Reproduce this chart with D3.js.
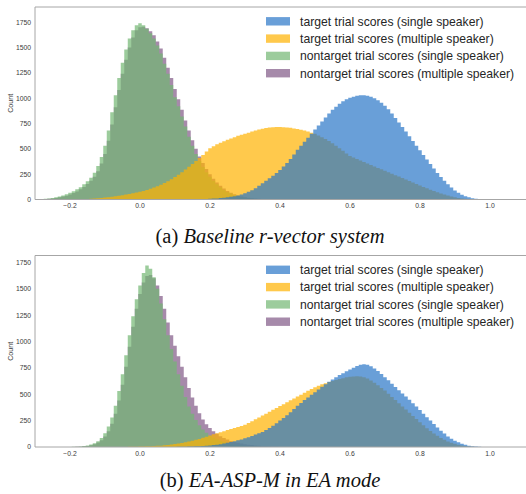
<!DOCTYPE html>
<html>
<head>
<meta charset="utf-8">
<script src="https://cdn.jsdelivr.net/npm/d3@7"></script>
<style>
  body { margin: 0; background: #fff; }
  svg { display: block; }
  .tick-label { font-family: "Liberation Sans", Arial, sans-serif; font-size: 6.8px; fill: #3a3a3a; }
  .legend-label { font-family: "Liberation Sans", Arial, sans-serif; font-size: 12.2px; fill: #262626; }
  .caption { font-family: "Liberation Serif", "Times New Roman", serif; font-size: 20.5px; fill: #111; }
</style>
</head>
<body>
<div id="chart"></div>
<script>
// Histogram bin counts, one value per 0.01-wide bin
const binWidth = 0.01;

const seriesNames = [
    'target trial scores (single speaker)',
    'target trial scores (multiple speaker)',
    'nontarget trial scores (single speaker)',
    'nontarget trial scores (multiple speaker)'
];

const xTicks = [-0.2, 0.0, 0.2, 0.4, 0.6, 0.8, 1.0];
const yTicks = [0, 250, 500, 750, 1000, 1250, 1500, 1750];

// (a) Baseline r-vector system
const baseTargetSingleStart = 0.15;
const baseTargetSingle = [1, 2, 3, 4, 5, 7, 9, 11, 14, 17, 21, 26, 32, 40, 50, 62, 76, 92, 112, 135,
    160, 185, 210, 235, 262, 290, 325, 360, 400, 445, 490, 530, 570, 610, 650, 690, 730, 770, 810, 850,
    885, 915, 945, 970, 990, 1005, 1015, 1025, 1030, 1030, 1025, 1015, 1000, 980, 955, 925, 890, 850, 805, 760,
    715, 670, 625, 578, 530, 485, 440, 395, 350, 305, 262, 222, 185, 150, 118, 90, 66, 47, 32, 21,
    13, 8, 5, 3, 2, 1];

const baseTargetMultiStart = -0.18;
const baseTargetMulti = [2, 3, 4, 5, 7, 9, 12, 15, 19, 23, 27, 32, 37, 43, 49, 55, 62, 69, 76, 85,
    95, 106, 118, 131, 146, 162, 180, 200, 222, 245, 270, 296, 323, 350, 380, 410, 440, 475, 505, 525,
    545, 560, 575, 590, 602, 615, 628, 640, 650, 660, 670, 680, 690, 698, 705, 710, 714, 716, 716, 714,
    711, 707, 702, 696, 688, 680, 670, 660, 648, 632, 615, 597, 578, 555, 530, 505, 480, 455, 430, 415,
    400, 385, 370, 355, 340, 325, 312, 298, 285, 270, 255, 240, 226, 212, 198, 183, 168, 153, 138, 124,
    110, 97, 84, 72, 60, 49, 39, 30, 22, 16, 11, 7, 4, 2, 1];

const baseNontargetSingleStart = -0.29;
const baseNontargetSingle = [2, 4, 7, 10, 15, 22, 30, 40, 52, 66, 82, 100, 122, 150, 180, 215, 265, 330, 420, 530,
    680, 860, 1030, 1200, 1350, 1480, 1590, 1670, 1720, 1740, 1720, 1685, 1640, 1590, 1520, 1440, 1340, 1240, 1130, 1010,
    920, 820, 720, 620, 530, 450, 380, 320, 270, 225, 185, 150, 120, 95, 75, 58, 45, 35, 27, 20,
    15, 11, 8, 6, 4, 3, 2, 1];

const baseNontargetMultiStart = -0.28;
const baseNontargetMulti = [2, 4, 7, 10, 15, 21, 29, 38, 50, 64, 80, 100, 124, 152, 185, 225, 280, 355, 450, 580,
    740, 910, 1080, 1240, 1380, 1500, 1600, 1670, 1700, 1705, 1690, 1660, 1620, 1560, 1490, 1400, 1300, 1200, 1090, 990,
    885, 780, 680, 585, 500, 425, 360, 300, 250, 205, 168, 135, 108, 85, 66, 51, 39, 30, 23, 17,
    13, 9, 7, 5, 3, 2, 1];

// (b) EA-ASP-M in EA mode
const eaTargetSingleStart = 0.10;
const eaTargetSingle = [1, 2, 2, 3, 4, 5, 6, 8, 10, 12, 15, 18, 22, 27, 33, 40, 47, 55, 63, 72,
    82, 93, 105, 118, 130, 143, 160, 180, 202, 225, 250, 275, 302, 330, 360, 390, 418, 445, 470, 495,
    520, 545, 570, 595, 618, 640, 662, 682, 700, 718, 735, 752, 768, 780, 785, 780, 765, 745, 720, 692,
    662, 632, 600, 568, 538, 508, 478, 447, 415, 383, 350, 316, 283, 250, 217, 185, 155, 127, 100, 78,
    60, 44, 31, 21, 13, 8, 5, 3, 1];

const eaTargetMultiStart = -0.05;
const eaTargetMulti = [1, 1, 2, 2, 3, 4, 5, 6, 7, 9, 11, 13, 16, 19, 23, 28, 33, 39, 45, 52,
    60, 68, 77, 87, 98, 110, 120, 130, 140, 150, 160, 170, 180, 190, 200, 212, 228, 245, 262, 280,
    298, 316, 334, 352, 370, 388, 406, 424, 442, 460, 478, 496, 514, 532, 550, 567, 580, 595, 605, 615,
    625, 635, 645, 652, 660, 665, 668, 670, 668, 662, 650, 630, 610, 585, 560, 535, 505, 475, 445, 415,
    385, 355, 325, 295, 265, 235, 205, 178, 152, 128, 106, 86, 68, 52, 40, 30, 21, 14, 9, 5,
    3, 1];

const eaNontargetSingleStart = -0.20;
const eaNontargetSingle = [1, 2, 3, 5, 9, 15, 24, 36, 55, 85, 130, 195, 280, 390, 530, 690, 870, 1060, 1240, 1400,
    1530, 1650, 1720, 1690, 1610, 1500, 1360, 1210, 1060, 930, 810, 690, 580, 475, 385, 315, 255, 205, 165, 135,
    110, 90, 74, 60, 49, 40, 32, 26, 20, 16, 12, 9, 7, 5, 3, 2, 1];

const eaNontargetMultiStart = -0.19;
const eaNontargetMulti = [1, 2, 3, 6, 10, 17, 27, 42, 65, 100, 150, 220, 315, 440, 590, 760, 950, 1140, 1310, 1450,
    1560, 1620, 1630, 1600, 1530, 1430, 1310, 1180, 1060, 960, 860, 760, 660, 560, 470, 390, 320, 260, 215, 180,
    150, 125, 103, 85, 70, 58, 48, 40, 33, 27, 22, 18, 14, 11, 8, 6, 4, 3, 2, 1];

// colours of the four hues, in legend order
const seriesColors = ['rgb(42,118,199)', 'rgb(255,178,0)', 'rgb(114,182,114)', 'rgb(128,88,134)'];

const panels = [
    {
        caption: ['(a) ', 'Baseline r-vector system'],
        top: 7, bottom: 199.5, yMax: 1900, captionY: 243,
        series: [
            [baseTargetSingleStart, baseTargetSingle],
            [baseTargetMultiStart, baseTargetMulti],
            [baseNontargetSingleStart, baseNontargetSingle],
            [baseNontargetMultiStart, baseNontargetMulti]
        ]
    },
    {
        caption: ['(b) ', 'EA-ASP-M in EA mode'],
        top: 255.5, bottom: 447, yMax: 1815, captionY: 487,
        series: [
            [eaTargetSingleStart, eaTargetSingle],
            [eaTargetMultiStart, eaTargetMulti],
            [eaNontargetSingleStart, eaNontargetSingle],
            [eaNontargetMultiStart, eaNontargetMulti]
        ]
    }
];

const width = 526, height = 494;
const left = 35, right = 526;

const svg = d3.select("#chart").append("svg")
    .attr("width", width)
    .attr("height", height);

const x = d3.scaleLinear().domain([-0.3, 1.1]).range([left, 525]);

panels.forEach((p, pi) => {
    const y = d3.scaleLinear().domain([0, p.yMax]).range([p.bottom, p.top]);
    const g = svg.append("g");

    const clipId = "clip" + pi;
    g.append("clipPath").attr("id", clipId)
        .append("rect")
        .attr("x", left).attr("y", p.top)
        .attr("width", right - left).attr("height", p.bottom - p.top);

    const area = d3.area()
        .curve(d3.curveStepAfter)
        .x(d => x(d[0]))
        .y0(y(0))
        .y1(d => y(d[1]));

    // draw last hue first so the first hue ends up on top (seaborn layer order)
    const plot = g.append("g").attr("clip-path", `url(#${clipId})`);
    for (let i = p.series.length - 1; i >= 0; i--) {
        const [start, counts] = p.series[i];
        const pts = counts.map((c, k) => [start + k * binWidth - binWidth / 2, c]);
        pts.push([start + counts.length * binWidth - binWidth / 2, counts[counts.length - 1]]);
        plot.append("path")
            .datum(pts)
            .attr("d", area)
            .style("fill", seriesColors[i])
            .style("fill-opacity", 0.7);
    }

    // spines
    g.append("path")
        .attr("d", `M${right},${p.top}H${left}V${p.bottom}H${right}`)
        .style("fill", "none")
        .style("stroke", "#a6a6a6")
        .style("stroke-width", 1);

    // tick labels (no tick marks)
    g.selectAll(".xt").data(xTicks).enter().append("text")
        .attr("class", "tick-label")
        .attr("x", d => x(d))
        .attr("y", p.bottom + 8.5)
        .attr("text-anchor", "middle")
        .text(d => d3.format(".1f")(d));

    g.selectAll(".yt").data(yTicks).enter().append("text")
        .attr("class", "tick-label")
        .attr("x", left - 4)
        .attr("y", d => y(d) + 2.4)
        .attr("text-anchor", "end")
        .text(d => d);

    g.append("text")
        .attr("class", "tick-label")
        .attr("transform", `translate(13,${(p.top + p.bottom) / 2}) rotate(-90)`)
        .attr("text-anchor", "middle")
        .style("font-size", "7.2px")
        .text("Count");

    // legend
    const lg = g.append("g").attr("transform", `translate(266,${p.top + 14.3})`);
    seriesNames.forEach((name, i) => {
        const row = lg.append("g").attr("transform", `translate(0,${i * 17.3})`);
        row.append("rect")
            .attr("x", 0).attr("y", -4.2)
            .attr("width", 24).attr("height", 8.4)
            .style("fill", seriesColors[i])
            .style("fill-opacity", 0.7);
        row.append("text")
            .attr("class", "legend-label")
            .attr("x", 34).attr("y", 4.3)
            .text(name);
    });

    // caption
    const cap = svg.append("text")
        .attr("class", "caption")
        .attr("x", 270)
        .attr("y", p.captionY)
        .attr("text-anchor", "middle");
    cap.append("tspan").text(p.caption[0]);
    cap.append("tspan").style("font-style", "italic").text(p.caption[1]);
});
</script>
</body>
</html>
